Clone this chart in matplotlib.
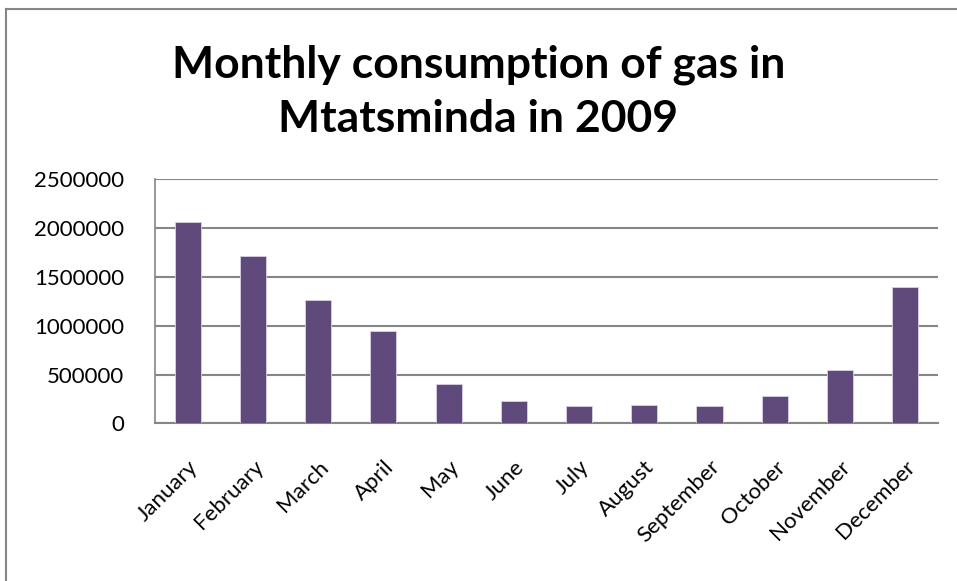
import numpy as np
import matplotlib.pyplot as plt
from matplotlib.lines import Line2D

months = ['January', 'February', 'March', 'April', 'May', 'June', 'July',
          'August', 'September', 'October', 'November', 'December']
consumption = [2062000, 1717000, 1263000, 943000, 400000, 232000, 174000,
               187000, 176000, 280000, 543000, 1400000]
yticks = [0, 500000, 1000000, 1500000, 2000000, 2500000]

plt.rcParams['font.family'] = ['Lato', 'DejaVu Sans']

fig = plt.figure(figsize=(9.57, 5.81), dpi=100)
ax = fig.add_axes([0.162, 0.2714, 0.818, 0.42])

x = np.arange(len(months))
ax.bar(x, consumption, width=0.4, color='#604A7B', edgecolor='#D9D2E3',
       linewidth=0.6, zorder=3)

ax.set_xlim(-0.5, len(months) - 0.5)
ax.set_ylim(0, 2500000)
ax.set_yticks(yticks)
ax.set_yticklabels([str(v) for v in yticks], fontsize=16)
ax.set_xticks(x)
ax.set_xticklabels(months, rotation=45, ha='right', rotation_mode='anchor',
                   fontsize=16)
ax.tick_params(axis='y', length=0, pad=22)
ax.tick_params(axis='x', length=0, pad=24)

ax.grid(axis='y', color='#868686', linewidth=1.5, zorder=0)
for side in ['top', 'right']:
    ax.spines[side].set_visible(False)
ax.spines['left'].set_color('#868686')
ax.spines['bottom'].set_color('#868686')
ax.spines['left'].set_linewidth(1.2)
ax.spines['bottom'].set_linewidth(1.5)

fig.text(0.5, 0.842, 'Monthly consumption of gas in\nMtatsminda in 2009',
         ha='center', va='center', fontsize=32, fontweight='bold',
         linespacing=1.4)

# chart frame (left and top edges only are visible)
fig.lines.append(Line2D([0.0065, 0.0065], [0, 0.985], transform=fig.transFigure,
                        color='#868686', linewidth=1.5))
fig.lines.append(Line2D([0.0065, 1.0], [0.985, 0.985], transform=fig.transFigure,
                        color='#868686', linewidth=1.5))

fig.savefig('out.png', dpi=100)
